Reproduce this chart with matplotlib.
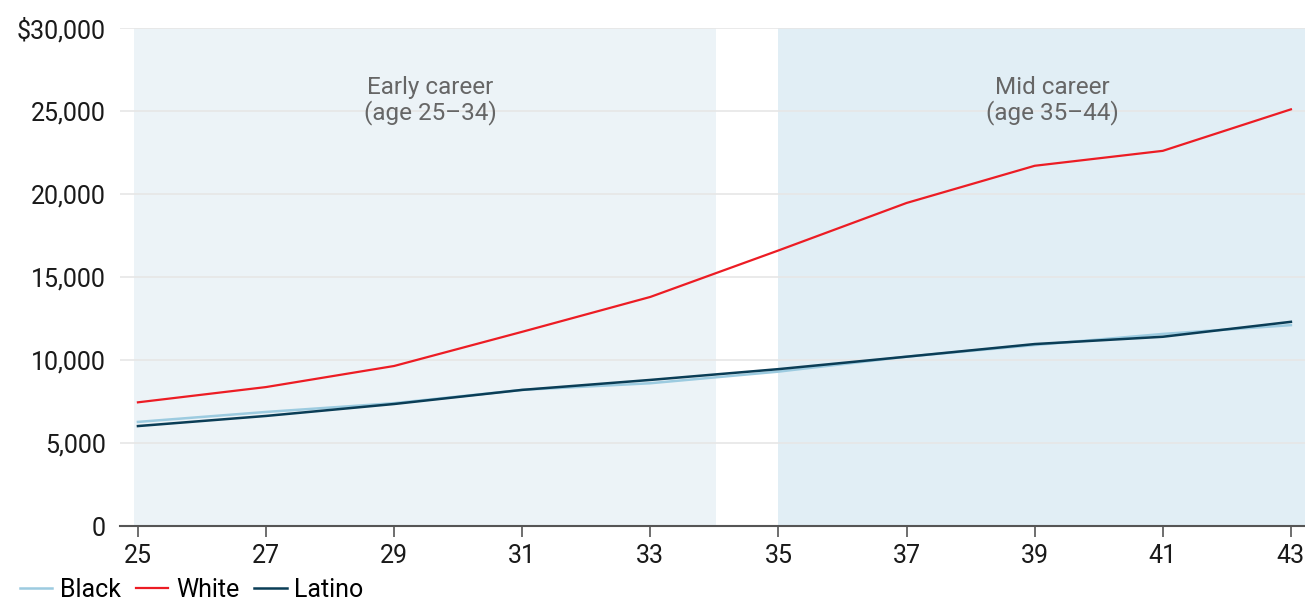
import matplotlib
matplotlib.use("Agg")
import matplotlib.pyplot as plt
import numpy as np

plt.rcParams['font.family'] = ['Roboto', 'DejaVu Sans']

ages = [25, 27, 29, 31, 33, 35, 37, 39, 41, 43]
black = [6270, 6870, 7400, 8200, 8600, 9300, 10200, 10900, 11570, 12100]
white = [7450, 8370, 9640, 11700, 13800, 16600, 19460, 21700, 22600, 25100]
latino = [6020, 6630, 7350, 8200, 8800, 9450, 10200, 10960, 11400, 12300]
yticks = [0, 5000, 10000, 15000, 20000, 25000, 30000]
ylabels = ["0", "5,000", "10,000", "15,000", "20,000", "25,000", "$30,000"]

fig = plt.figure(figsize=(13.05, 6.03), dpi=100)
ax = fig.add_axes([120/1305, 1 - 526/603, 1 - 120/1305, (526 - 28)/603])

ax.axvspan(24.94, 34.03, color="#ecf3f7", lw=0, zorder=0)
ax.axvspan(35.0, 43.3, color="#e1eef5", lw=0, zorder=0)
for t in yticks[1:]:
    ax.axhline(t, color="#e6e6e6", lw=1.2, zorder=1)

ax.plot(ages, black, color="#9ccbe0", lw=1.8, label="Black", zorder=3)
ax.plot(ages, white, color="#ec1c24", lw=1.6, label="White", zorder=3)
ax.plot(ages, latino, color="#0a3d56", lw=1.8, label="Latino", zorder=4)

ax.text(29.56, 25650, "Early career\n(age 25\u201334)", ha="center", va="center",
        fontsize=17.5, color="#666666", linespacing=1.05)
ax.text(39.27, 25650, "Mid career\n(age 35\u201344)", ha="center", va="center",
        fontsize=17.5, color="#666666", linespacing=1.05)

ax.set_xlim(24.72, 43.22)
ax.set_ylim(0, 30000)
ax.set_xticks(ages)
ax.set_yticks(yticks)
ax.set_yticklabels(ylabels)
ax.tick_params(axis="y", length=0, labelsize=18, pad=10, labelcolor="#1a1a1a")
ax.tick_params(axis="x", length=8, width=1.2, color="#555555", labelsize=18,
               pad=5, labelcolor="#1a1a1a")
for s in ["top", "right", "left"]:
    ax.spines[s].set_visible(False)
ax.spines["bottom"].set_color("#555555")
ax.spines["bottom"].set_linewidth(1.5)
ax.spines["bottom"].set_zorder(5)

fig.legend(loc="lower left", bbox_to_anchor=(-0.002, -0.036), ncol=3, frameon=False,
           fontsize=18, handlelength=1.3, handletextpad=0.3, columnspacing=0.6)

fig.savefig("out.png", dpi=100)
plt.close()
